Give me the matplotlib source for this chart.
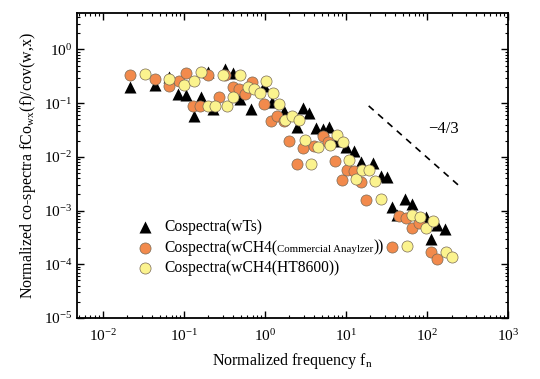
import numpy as np
import matplotlib
matplotlib.use("Agg")
import matplotlib.pyplot as plt
from matplotlib.ticker import LogLocator, NullFormatter

# ----------------------------
# Data
# ----------------------------
fn_wts = [0.0213, 0.0433, 0.065, 0.084, 0.106, 0.131, 0.163, 0.196, 0.226, 0.322,
          0.399, 0.492, 0.672, 0.98, 1.22, 1.73, 2.45, 2.9, 3.51, 4.25,
          5.12, 6.07, 7.48, 9.95, 12.6, 15.2, 21.6, 26.9, 32.4, 37.3,
          43.0, 53.4, 64.6, 96.0, 111.0, 134.0, 166.0]
co_wts = [0.204, 0.216, 0.312, 0.151, 0.141, 0.058, 0.131, 0.38, 0.077, 0.426,
          0.36, 0.122, 0.077, 0.209, 0.103, 0.070, 0.0355, 0.083, 0.067, 0.034,
          0.033, 0.0355, 0.020, 0.0151, 0.0131, 0.0082, 0.0077, 0.0044, 0.0042, 0.00117,
          0.00082, 0.00162, 0.00135, 0.00076, 0.0003, 0.00055, 0.00045]

fn_comm = [0.0213, 0.0433, 0.0646, 0.0863, 0.106, 0.128, 0.158, 0.196, 0.268, 0.324,
           0.399, 0.482, 0.571, 0.684, 0.98, 1.19, 1.41, 1.69, 1.99, 2.45,
           2.9, 4.06, 5.12, 6.0, 7.28, 8.78, 10.4, 12.6, 15.2, 17.8,
           37.3, 45.0, 54.5, 64.6, 79.4, 111.0, 134.0]
co_comm = [0.34, 0.278, 0.209, 0.259, 0.36, 0.089, 0.087, 0.33, 0.128, 0.33,
           0.20, 0.18, 0.151, 0.252, 0.096, 0.047, 0.058, 0.047, 0.020, 0.0074,
           0.0147, 0.0162, 0.0248, 0.019, 0.0083, 0.00364, 0.0057, 0.0054, 0.0034, 0.00155,
           0.000213, 0.00078, 0.00074, 0.00048, 0.00059, 0.000167, 0.000125]

fn_ht = [0.0327, 0.065, 0.0986, 0.131, 0.163, 0.196, 0.242, 0.30, 0.337, 0.407,
         0.492, 0.61, 0.724, 0.868, 1.03, 1.24, 1.5, 1.78, 2.15, 2.59,
         3.13, 3.69, 4.45, 6.31, 7.62, 9.21, 10.9, 13.2, 15.9, 19.2,
         22.8, 27.3, 57.0, 65.8, 81.1, 97.7, 118.0, 169.0, 204.0]
co_ht = [0.344, 0.287, 0.216, 0.259, 0.38, 0.089, 0.087, 0.334, 0.089, 0.131,
         0.334, 0.204, 0.18, 0.153, 0.259, 0.153, 0.096, 0.0485, 0.058, 0.049,
         0.0206, 0.0074, 0.0151, 0.0167, 0.0255, 0.0192, 0.0089, 0.0038, 0.0058, 0.0056,
         0.0035, 0.00162, 0.000222, 0.00082, 0.00076, 0.00048, 0.00063, 0.000172, 0.000135]

# -4/3 reference slope
slope_x = [19.0, 260.0]
slope_y0 = 0.089

# ----------------------------
# Plot
# ----------------------------
plt.rcParams["font.family"] = ["Liberation Serif", "DejaVu Serif"]
plt.rcParams["mathtext.fontset"] = "stix"

fig = plt.figure(figsize=(5.4, 3.79), dpi=100)
ax = fig.add_axes([0.143, 0.161, 0.798, 0.805])

edge = "#7a6a55"
ax.scatter(fn_wts, co_wts, marker="^", s=75, color="black", lw=0, zorder=3,
           label="Cospectra(wTs)")
ax.scatter(fn_comm, co_comm, marker="o", s=64, facecolor="#f28a4c", edgecolor=edge,
           lw=0.5, zorder=4, label="Cospectra(wCH4(")
ax.scatter(fn_ht, co_ht, marker="o", s=64, facecolor="#fbf38e", edgecolor=edge,
           lw=0.5, zorder=5, label="Cospectra(wCH4(HT8600))")

sx = np.array(slope_x)
sy = slope_y0 * (sx / sx[0]) ** (-4.0 / 3.0)
ax.plot(sx, sy, ls=(0, (4, 3.5)), color="black", lw=1.2)
ax.text(161, 0.033, "\u22124/3", fontsize=12, ha="center", va="center")

ax.set_xscale("log")
ax.set_yscale("log")
ax.set_xlim(4.8e-3, 1e3)
ax.set_ylim(1e-5, 4.8)

ax.xaxis.set_major_locator(LogLocator(base=10, numticks=12))
ax.yaxis.set_major_locator(LogLocator(base=10, numticks=12))
ax.xaxis.set_minor_locator(LogLocator(base=10, subs=np.arange(2, 10), numticks=12))
ax.yaxis.set_minor_locator(LogLocator(base=10, subs=np.arange(2, 10), numticks=12))
ax.xaxis.set_minor_formatter(NullFormatter())
ax.yaxis.set_minor_formatter(NullFormatter())

ax.tick_params(which="both", direction="in", top=True, right=True, labelsize=11)
ax.tick_params(which="major", length=5, width=1)
ax.tick_params(which="minor", length=2.5, width=0.8)
ax.tick_params(axis="x", pad=7)
for sp in ax.spines.values():
    sp.set_linewidth(1.3)

ax.set_xlabel("Normalized frequency f$_\\mathregular{n}$", fontsize=11.5, labelpad=5)
ax.set_ylabel("Normalized co-spectra fCo$_\\mathregular{wx}$(f)/cov(w,x)", fontsize=11.5,
              labelpad=4)

leg = ax.legend(loc="upper left", bbox_to_anchor=(0.122, 0.345), frameon=False,
                fontsize=11.2, handletextpad=0.6, labelspacing=0.3,
                handlelength=1.2, borderaxespad=0)
# small "Commercial Anaylzer" text inside the second legend label
t2 = leg.get_texts()[1]
a1 = ax.annotate("Commercial Anaylzer", xy=(1, 0.1), xycoords=t2, fontsize=7.8,
                 va="bottom", ha="left", zorder=10)
ax.annotate("))", xy=(1, 0), xycoords=(a1, t2), fontsize=11.2, va="bottom", ha="left",
            zorder=10)

fig.savefig("out.png", dpi=100)
